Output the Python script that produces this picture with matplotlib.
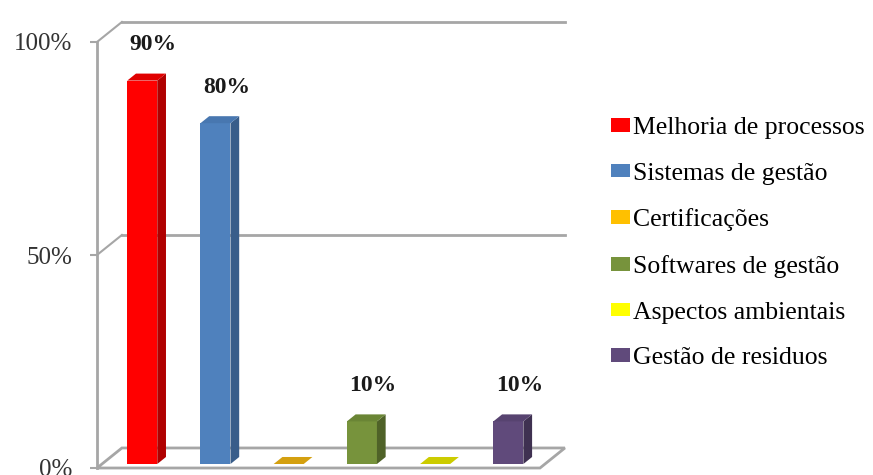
import matplotlib
matplotlib.use("Agg")
from matplotlib import pyplot as plt
from matplotlib.patches import Polygon, Rectangle
import numpy as np

categories = ["Melhoria de processos", "Sistemas de gestão", "Certificações",
              "Softwares de gestão", "Aspectos ambientais", "Gestão de residuos"]
values = [90, 80, 0, 10, 0, 10]
front_colors = ["#FF0000", "#4F81BD", "#FFC000", "#77933C", "#FFFF00", "#604A7B"]
side_colors = ["#B00000", "#385D8A", "#B08000", "#4F6228", "#B0B000", "#3F3151"]
top_colors = ["#E00000", "#4877B0", "#D4A010", "#6A8535", "#CCCC00", "#574370"]
yticks = [0, 50, 100]

plt.rcParams["font.family"] = ["Liberation Serif", "DejaVu Serif"]

fig = plt.figure(figsize=(8.73, 4.75), dpi=100)
ax = fig.add_axes([97 / 873, 7 / 475, 443 / 873, 426 / 475])
x0, x1 = -0.55, 5.5
ax.set_xlim(x0, x1)
ax.set_ylim(0, 100)

grey = "#A6A6A6"
# wall depth (data units) and bar placement inside that depth
dx, dy = 0.34, 4.7
f_front, f_depth = 0.2, 0.35
half_w = 0.205

# back wall: top edge, gridline, and the diagonals joining it to the front axis
for level in [50, 100]:
    ax.plot([x0 + dx, x1 + dx], [level + dy, level + dy], color=grey, lw=2, clip_on=False, zorder=1)
    ax.plot([x0, x0 + dx], [level, level + dy], color=grey, lw=1.5, clip_on=False, zorder=1)

# floor
floor = Polygon([(x0, 0), (x1, 0), (x1 + dx, dy), (x0 + dx, dy)], closed=True,
                facecolor="white", edgecolor=grey, lw=2, clip_on=False, zorder=2)
ax.add_patch(floor)

bx, by = f_depth * dx, f_depth * dy
for i, v in enumerate(values):
    left = i - half_w + f_front * dx
    right = i + half_w + f_front * dx
    base = f_front * dy
    top = v + base
    if v > 0:
        ax.add_patch(Rectangle((left, base), right - left, v, facecolor=front_colors[i],
                               edgecolor="none", clip_on=False, zorder=3))
        ax.add_patch(Polygon([(right, base), (right + bx, base + by), (right + bx, top + by), (right, top)],
                             closed=True, facecolor=side_colors[i], edgecolor="none",
                             clip_on=False, zorder=3))
    ax.add_patch(Polygon([(left, top), (right, top), (right + bx, top + by), (left + bx, top + by)],
                         closed=True, facecolor=top_colors[i], edgecolor="none",
                         clip_on=False, zorder=3))
    if v > 0:
        ax.annotate(f"{v}%", xy=(i + 0.22, top), xytext=(0, 26), textcoords="offset points",
                    ha="center", va="center", fontsize=17, fontweight="bold",
                    color="#1A1A1A", zorder=4)

for side in ["top", "right", "bottom"]:
    ax.spines[side].set_visible(False)
ax.spines["left"].set_color(grey)
ax.spines["left"].set_linewidth(2)
ax.set_xticks([])
ax.set_yticks(yticks)
ax.set_yticklabels([f"{t}%" for t in yticks])
ax.tick_params(axis="y", length=5, width=1.5, color=grey, pad=13, labelsize=18, labelcolor="#333333")
ax.patch.set_visible(False)

handles = [Rectangle((0, 0), 1, 1, facecolor=c, edgecolor="none") for c in front_colors]
fig.legend(handles, categories, loc="center left", bbox_to_anchor=(611 / 873, 0.488),
           frameon=False, fontsize=18.5, handlelength=0.74, handleheight=0.43,
           handletextpad=0.12, labelspacing=0.92, borderpad=0, borderaxespad=0)

fig.savefig("out.png", dpi=100)
